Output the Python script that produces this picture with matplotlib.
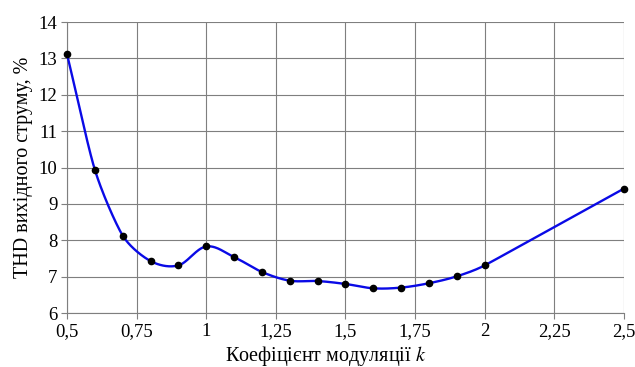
import numpy as np
import matplotlib.pyplot as plt
from matplotlib.ticker import FuncFormatter

k = [0.5, 0.6, 0.7, 0.8, 0.9, 1.0, 1.1, 1.2, 1.3, 1.4, 1.5, 1.6, 1.7, 1.8, 1.9, 2.0, 2.5]
thd = [13.12, 9.94, 8.13, 7.43, 7.31, 7.83, 7.54, 7.13, 6.89, 6.88, 6.80, 6.68, 6.70, 6.82, 7.01, 7.31, 9.42]

xticks = [0.5, 0.75, 1.0, 1.25, 1.5, 1.75, 2.0, 2.25, 2.5]
yticks = [6, 7, 8, 9, 10, 11, 12, 13, 14]

plt.rcParams['font.family'] = ['Liberation Serif', 'DejaVu Serif']
plt.rcParams['mathtext.fontset'] = 'stix'


def smooth(xs, ys, sx=280.0, sy=36.5, n=40):
    # smoothed line made of cubic bezier pieces; tangent handles are
    # limited by the shorter neighbouring piece (screen-like units) so
    # long pieces don't bulge and uneven spacing leaves no kink
    p = np.column_stack([np.asarray(xs) * sx, np.asarray(ys) * sy])
    m = len(p)
    seglen = np.hypot(*np.diff(p, axis=0).T)
    tan = np.zeros_like(p)
    for i in range(m):
        a = p[max(i - 1, 0)]
        b = p[min(i + 1, m - 1)]
        d = b - a
        tan[i] = d / np.hypot(*d)
    t = np.linspace(0, 1, n)[:, None]
    out = []
    for i in range(m - 1):
        p1, p2 = p[i], p[i + 1]
        L = seglen[i]
        h1 = min(L, seglen[i - 1]) if i > 0 else L
        h2 = min(L, seglen[i + 1]) if i < m - 2 else L
        c1 = p1 + tan[i] * h1 / 3
        c2 = p2 - tan[i + 1] * h2 / 3
        seg = (1 - t) ** 3 * p1 + 3 * (1 - t) ** 2 * t * c1 + 3 * (1 - t) * t ** 2 * c2 + t ** 3 * p2
        out.append(seg if i == 0 else seg[1:])
    out = np.vstack(out)
    return out[:, 0] / sx, out[:, 1] / sy


fig = plt.figure(figsize=(6.35, 3.67), dpi=100)
ax = fig.add_axes([0.1055, 0.147, 0.877, 0.793])

lx, ly = smooth(k, thd)
ax.plot(lx, ly, color='#0a0ae6', lw=1.7, zorder=3, clip_on=False)
ax.plot(k, thd, 'o', color='black', ms=4.5, zorder=4, clip_on=False)

ax.set_xlim(0.5, 2.5)
ax.set_ylim(6, 14)
ax.set_xticks(xticks)
ax.set_yticks(yticks)
ax.xaxis.set_major_formatter(FuncFormatter(lambda v, pos: ('%g' % v).replace('.', ',')))

ax.grid(True, color='#7f7f7f', lw=0.8)
ax.set_axisbelow(True)
for side in ['top', 'right']:
    ax.spines[side].set_visible(False)
for side in ['left', 'bottom']:
    ax.spines[side].set_color('#7f7f7f')
    ax.spines[side].set_linewidth(0.8)
ax.tick_params(direction='out', length=4, width=0.8, color='#7f7f7f', labelsize=13.5, pad=3)

ax.set_xlabel('Коефіцієнт модуляції $k$', fontsize=14.5, labelpad=0)
ax.xaxis.set_label_coords(0.464, -0.105)
ax.set_ylabel('THD вихідного струму, %', fontsize=14.5, labelpad=4)

fig.savefig('out.png', dpi=100)
